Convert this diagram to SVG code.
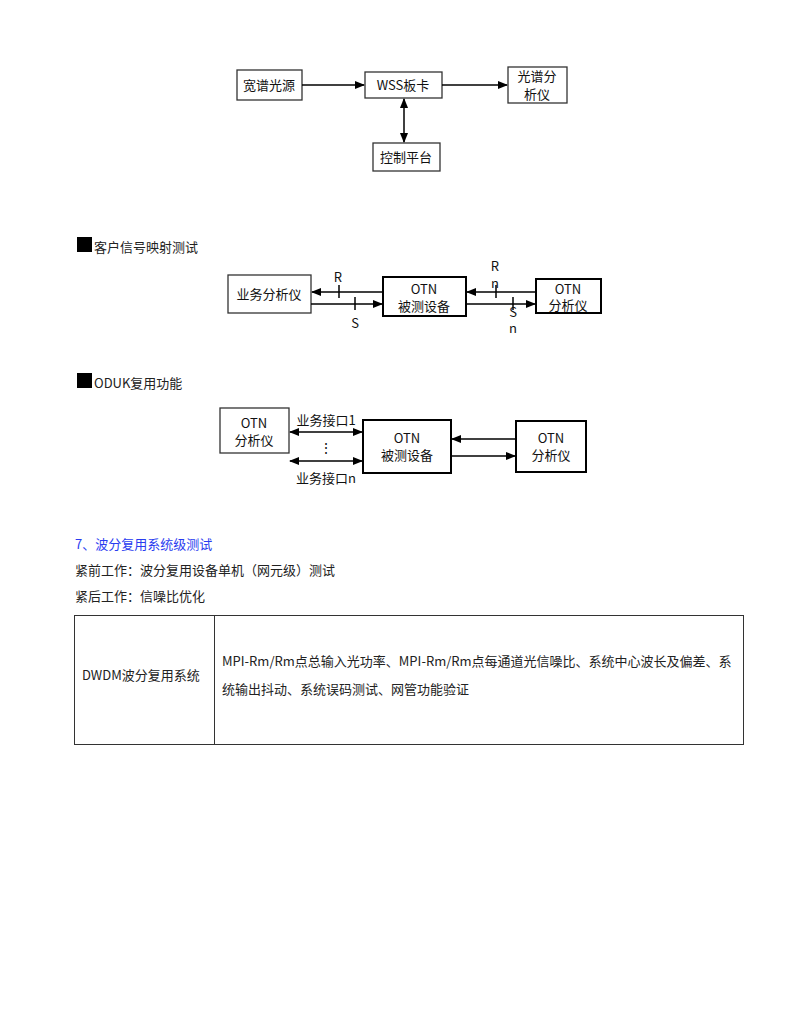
<svg xmlns="http://www.w3.org/2000/svg" width="800" height="1035" viewBox="0 0 800 1035">
<defs>
<marker id="ah" viewBox="0 0 10 10" refX="9" refY="5" markerWidth="7" markerHeight="7" orient="auto-start-reverse"><path d="M0,1 L10,5 L0,9 z" fill="#000"/></marker>
<style>
.b{fill:#fff;stroke:#333;stroke-width:1.3}
.bt{fill:#fff;stroke:#000;stroke-width:2}
.t{font-family:"Noto Sans CJK SC","Noto Sans",sans-serif;font-size:13px;fill:#111;text-anchor:middle}
.l{stroke:#000;stroke-width:1.5;fill:none}
.p{font-family:"Noto Sans CJK SC",sans-serif;font-size:13px;fill:#222}
</style>
</defs>
<rect width="800" height="1035" fill="#fff"/>
<g id="n1"><rect class="b" x="237" y="70" width="65" height="30"/><text class="t" x="269" y="90">宽谱光源</text></g>
<g id="n2"><rect class="b" x="365" y="72" width="77" height="26"/><text class="t" x="403" y="90">WSS板卡</text></g>
<g id="n3"><rect class="b" x="508" y="67" width="59" height="36"/><text class="t" x="537" y="81">光谱分</text><text class="t" x="537" y="99">析仪</text></g>
<g id="n4"><rect class="b" x="373" y="143" width="67" height="28"/><text class="t" x="406" y="162">控制平台</text></g>
<g id="h1"><rect x="77" y="237" width="15" height="15" fill="#000"/><text class="p" x="94" y="252">客户信号映射测试</text></g>
<g id="n5"><rect class="b" x="228" y="275" width="83" height="38"/><text class="t" x="269" y="299">业务分析仪</text></g>
<g id="n6"><rect class="bt" x="383" y="277" width="83" height="39"/><text class="t" x="424" y="294">OTN</text><text class="t" x="424" y="311">被测设备</text></g>
<g id="n7"><rect class="bt" x="536" y="279" width="65" height="34"/><text class="t" x="568" y="294">OTN</text><text class="t" x="568" y="310">分析仪</text></g>
<g id="h2"><rect x="77" y="373" width="15" height="15" fill="#000"/><text class="p" x="94" y="388">ODUK复用功能</text></g>
<g id="n8"><rect class="b" x="220" y="408" width="69" height="45"/><text class="t" x="254" y="428">OTN</text><text class="t" x="254" y="445">分析仪</text></g>
<g id="n9"><rect class="bt" x="363" y="420" width="88" height="53"/><text class="t" x="407" y="443">OTN</text><text class="t" x="407" y="460">被测设备</text></g>
<g id="n10"><rect class="bt" x="516" y="421" width="70" height="51"/><text class="t" x="551" y="443">OTN</text><text class="t" x="551" y="460">分析仪</text></g>
<g id="connectors">
<line class="l" x1="302" y1="85" x2="364" y2="85" marker-end="url(#ah)"/>
<line class="l" x1="442" y1="85" x2="507" y2="85" marker-end="url(#ah)" stroke-width="2"/>
<line class="l" x1="404" y1="99" x2="404" y2="142" marker-start="url(#ah)" marker-end="url(#ah)"/>
<line class="l" x1="383" y1="292" x2="312" y2="292" marker-end="url(#ah)"/>
<line class="l" x1="311" y1="304" x2="382" y2="304" marker-end="url(#ah)"/>
<line class="l" x1="339" y1="285" x2="339" y2="298"/>
<line class="l" x1="355" y1="297" x2="355" y2="310"/>
<line class="l" x1="536" y1="292" x2="467" y2="292" marker-end="url(#ah)"/>
<line class="l" x1="466" y1="304" x2="535" y2="304" marker-end="url(#ah)"/>
<line class="l" x1="496" y1="285" x2="496" y2="298"/>
<line class="l" x1="513" y1="297" x2="513" y2="310"/>
<line class="l" x1="290" y1="432" x2="362" y2="432" marker-start="url(#ah)" marker-end="url(#ah)"/>
<line class="l" x1="290" y1="461" x2="362" y2="461" marker-start="url(#ah)" marker-end="url(#ah)"/>
<line class="l" x1="516" y1="439" x2="452" y2="439" marker-end="url(#ah)" stroke-width="2"/>
<line class="l" x1="451" y1="456" x2="515" y2="456" marker-end="url(#ah)" stroke-width="2"/>
</g>
<g font-family="Noto Sans CJK SC,sans-serif" font-size="13" fill="#111" text-anchor="middle">
<text x="338" y="282">R</text><text x="355" y="328">S</text>
<text x="495" y="271">R</text><text x="495" y="288">n</text>
<text x="513" y="317">S</text><text x="513" y="333">n</text>
<text x="326" y="425">业务接口1</text>
<text x="326" y="483">业务接口n</text>
<text x="326" y="453" font-size="14">⋮</text>
</g>
<text class="p" x="75" y="549" style="fill:#2a3cf0">7、波分复用系统级测试</text>
<text class="p" x="75" y="575">紧前工作：波分复用设备单机（网元级）测试</text>
<text class="p" x="75" y="601">紧后工作：信噪比优化</text>
<g id="table">
<rect x="74.5" y="615.5" width="669" height="129" fill="none" stroke="#333" stroke-width="1"/>
<line x1="214.5" y1="615" x2="214.5" y2="745" stroke="#333"/>
<text class="p" x="82" y="680" font-size="12">DWDM波分复用系统</text>
<text class="p" x="222" y="666" font-size="12.5">MPI-Rm/Rm点总输入光功率、MPI-Rm/Rm点每通道光信噪比、系统中心波长及偏差、系</text>
<text class="p" x="222" y="694" font-size="12.5">统输出抖动、系统误码测试、网管功能验证</text>
</g>
</svg>
